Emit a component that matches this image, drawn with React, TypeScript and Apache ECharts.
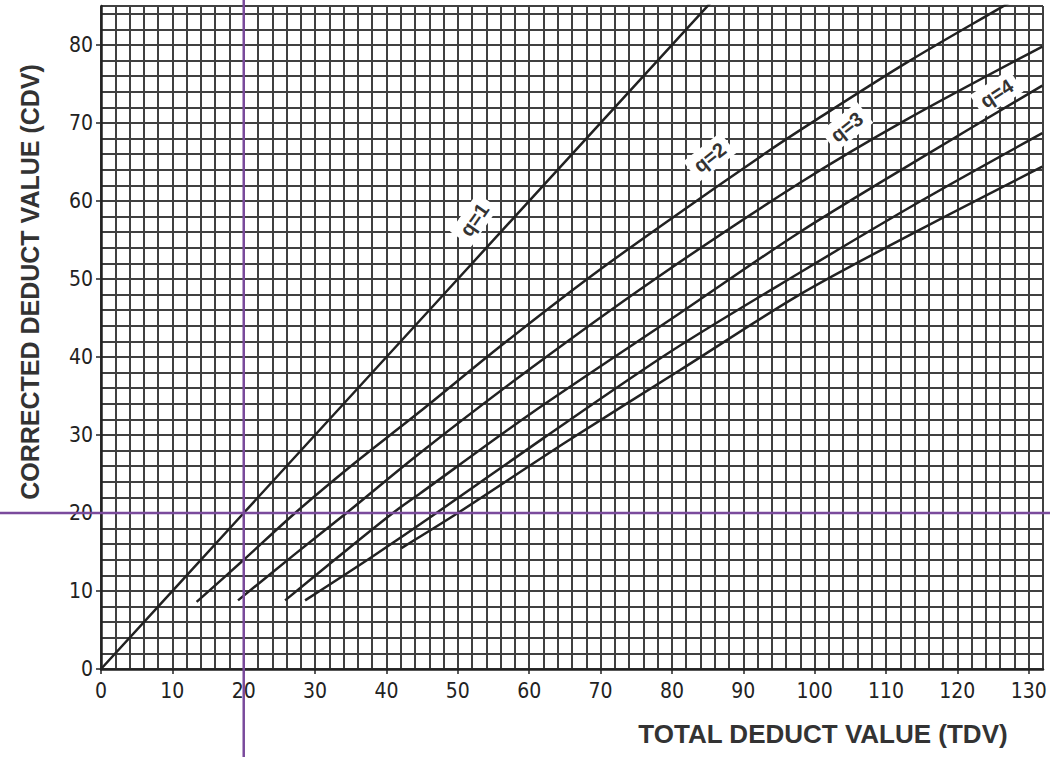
import React, { useEffect, useRef } from "react";
import * as echarts from "echarts";

// Curves: [TDV, CDV]
const q1: number[][] = [[0, 0], [20, 20], [50, 50], [86, 86]];
const q2: number[][] = [[13.4, 8.6], [20, 14], [27.2, 20], [35, 26], [44.7, 33], [56, 41.4], [68, 49.9], [78.3, 56.7], [93.7, 66.5], [100.2, 70.4], [113, 77.8], [125.9, 84.7], [128, 85.8]];
const q3: number[][] = [[19.2, 8.8], [27, 14.6], [34.4, 20], [44.7, 27.7], [60, 38.4], [77.8, 50.1], [97.9, 62.3], [112.8, 70.4], [131.9, 79.8]];
const q4: number[][] = [[25.8, 8.8], [33, 14.2], [40.9, 20], [44.7, 22.5], [60, 32.6], [81.1, 45.6], [97.9, 56], [114.7, 65.4], [131.9, 74.8]];
const q5: number[][] = [[28.6, 8.8], [38, 14.4], [47, 20], [62, 29.6], [80, 40.8], [97.9, 50.8], [114.7, 59.9], [131.9, 68.7]];
const q6: number[][] = [[42.1, 15.5], [50, 20], [65, 29], [81.1, 38.3], [97.9, 48], [114.7, 56.3], [131.9, 64.4]];

const curves = [q1, q2, q3, q4, q5, q6];

const xTickLabels = [0, 10, 20, 30, 40, 50, 60, 70, 80, 90, 100, 110, 120, 130];
const yTickLabels = [0, 10, 20, 30, 40, 50, 60, 70, 80];

const curveLabels = ["q=1", "q=2", "q=3", "q=4"];
const curveLabelPos: number[][] = [[52.3, 57.6], [85.3, 65.6], [104.5, 69.5], [125.5, 73.8]];
const curveLabelAngle = [55, 38, 38, 33];

const refX = 20;
const refY = 20;

const X_MAX = 132;
const Y_MAX = 85;
const GRID_STEP = 2;

const xTitle = "TOTAL DEDUCT VALUE (TDV)";
const yTitle = "CORRECTED DEDUCT VALUE (CDV)";

const GRID_COLOR = "#404040";
const INK = "#222";
const PURPLE = "#7a4a9c";
const TICK_FONT = "'Liberation Sans Narrow', 'DejaVu Sans Condensed', 'Liberation Sans', Arial, sans-serif";
const TITLE_FONT = "'Liberation Sans', Arial, Helvetica, sans-serif";

export default function App() {
  const ref = useRef<HTMLDivElement>(null);

  useEffect(() => {
    document.body.style.margin = "0";
    const chart = echarts.init(ref.current!, null, { renderer: "svg" });
    const gridAxisX = {
      type: "value",
      min: 0,
      max: X_MAX,
      interval: GRID_STEP,
      axisLine: { show: true, onZero: false, lineStyle: { color: INK, width: 2.5 } },
      axisTick: { show: false },
      axisLabel: { show: false },
      splitLine: { show: true, lineStyle: { color: GRID_COLOR, width: 2 } },
      z: 1,
    };
    const gridAxisY = {
      type: "value",
      min: 0,
      max: Y_MAX,
      interval: GRID_STEP,
      axisLine: { show: true, onZero: false, lineStyle: { color: INK, width: 2.5 } },
      axisTick: { show: false },
      axisLabel: { show: false },
      splitLine: { show: true, lineStyle: { color: GRID_COLOR, width: 2 } },
      z: 1,
    };
    chart.setOption({
      animation: false,
      backgroundColor: "#fff",
      grid: { left: 101, right: 7, top: 6, bottom: 88, containLabel: false },
      xAxis: [
        gridAxisX,
        {
          type: "value",
          min: 0,
          max: X_MAX,
          position: "bottom",
          axisLine: { show: false, onZero: false },
          axisTick: { show: true, customValues: xTickLabels, length: 5, lineStyle: { color: INK, width: 1.5 } },
          axisLabel: {
            customValues: xTickLabels,
            margin: 11,
            fontSize: 21,
            color: "#222",
            fontFamily: TICK_FONT,
          },
          splitLine: { show: false },
        },
      ],
      yAxis: [
        gridAxisY,
        {
          type: "value",
          min: 0,
          max: Y_MAX,
          position: "left",
          axisLine: { show: false, onZero: false },
          axisTick: { show: true, customValues: yTickLabels, length: 5, lineStyle: { color: INK, width: 1.5 } },
          axisLabel: {
            customValues: yTickLabels,
            margin: 8,
            fontSize: 21,
            color: "#222",
            fontFamily: TICK_FONT,
          },
          splitLine: { show: false },
        },
      ],
      series: curves.map((c, i) => ({
        type: "line",
        name: "q=" + (i + 1),
        data: c,
        xAxisIndex: 0,
        yAxisIndex: 0,
        showSymbol: false,
        smooth: 0.3,
        clip: true,
        lineStyle: { color: INK, width: 2.5 },
        z: 3,
      })),
    });

    const px = (x: number, y: number) =>
      chart.convertToPixel({ xAxisIndex: 0, yAxisIndex: 0 }, [x, y]) as number[];
    const [vx] = px(refX, 0);
    const [, hy] = px(0, refY);

    const graphic: any[] = [
      {
        type: "line",
        z: 10,
        shape: { x1: vx, y1: 0, x2: vx, y2: 757 },
        style: { stroke: PURPLE, lineWidth: 2.5 },
      },
      {
        type: "line",
        z: 10,
        shape: { x1: 0, y1: hy, x2: 1050, y2: hy },
        style: { stroke: PURPLE, lineWidth: 2.5 },
      },
      {
        type: "text",
        z: 12,
        x: 30,
        y: 282,
        rotation: Math.PI / 2,
        style: {
          text: yTitle,
          fontSize: 25,
          fontWeight: "bold",
          fontFamily: TITLE_FONT,
          fill: "#333",
          align: "center",
          verticalAlign: "middle",
        },
      },
      {
        type: "text",
        z: 12,
        x: 823,
        y: 734,
        style: {
          text: xTitle,
          fontSize: 26,
          fontWeight: "bold",
          fontFamily: TITLE_FONT,
          fill: "#333",
          align: "center",
          verticalAlign: "middle",
        },
      },
    ];
    curveLabels.forEach((t, i) => {
      const [lx, ly] = px(curveLabelPos[i][0], curveLabelPos[i][1]);
      graphic.push({
        type: "text",
        z: 12,
        x: lx,
        y: ly,
        rotation: (curveLabelAngle[i] * Math.PI) / 180,
        style: {
          text: t,
          fontSize: 20,
          fontWeight: "bold",
          fontFamily: TITLE_FONT,
          fill: "#333",
          align: "center",
          verticalAlign: "middle",
          backgroundColor: "#fff",
          padding: [3, 6],
        },
      });
    });
    chart.setOption({ graphic });

    return () => chart.dispose();
  }, []);

  return <div ref={ref} style={{ width: 1050, height: 757 }} />;
}
